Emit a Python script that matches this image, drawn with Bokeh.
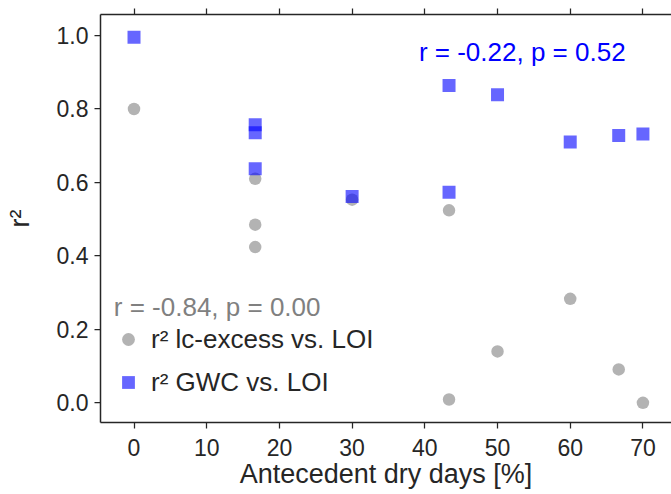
from bokeh.plotting import figure
from bokeh.models import (LinearAxis, SingleIntervalTicker, Label, PrintfTickFormatter,
                          Range1d)
from bokeh.embed import file_html
from bokeh.resources import INLINE

# Data
x_ic = [0, 16.67, 16.67, 16.67, 30, 43.33, 43.33, 50, 60, 66.67, 70]
r2_ic = [0.80, 0.61, 0.485, 0.424, 0.553, 0.524, 0.009, 0.140, 0.283, 0.091, 0.0]
x_gwc = [0, 16.67, 16.67, 16.67, 30, 43.33, 43.33, 50, 60, 66.67, 70]
r2_gwc = [0.995, 0.757, 0.735, 0.637, 0.562, 0.864, 0.573, 0.839, 0.710, 0.728, 0.732]
label_ic = "r² lc-excess vs. LOI"
label_gwc = "r² GWC vs. LOI"
stat_gwc = "r = -0.22, p = 0.52"
stat_ic = "r = -0.84, p = 0.00"
x_title = "Antecedent dry days [%]"
y_title = "r²"

FONT = "Liberation Sans"
TXT = "#262626"

p = figure(width=671, height=494, output_backend="svg", toolbar_location=None,
           x_range=Range1d(-4.61, 73.93), y_range=Range1d(-0.0536, 1.0572),
           min_border_left=100, min_border_right=0, min_border_top=14, min_border_bottom=72,
           x_axis_location="below")
p.outline_line_color = None
p.xgrid.visible = False
p.ygrid.visible = False
p.background_fill_color = "white"

p.scatter(x_ic, r2_ic, marker="circle", size=12.5, fill_color="gray", fill_alpha=0.6,
          line_color=None, legend_label=label_ic)
p.scatter(x_gwc, r2_gwc, marker="square", size=13, fill_color="blue", fill_alpha=0.6,
          line_color=None, legend_label=label_gwc)

# bottom axis
xa = p.xaxis[0]
xa.ticker = SingleIntervalTicker(interval=10)
xa.axis_label = x_title
# left axis
ya = p.yaxis[0]
ya.ticker = SingleIntervalTicker(interval=0.2)
ya.formatter = PrintfTickFormatter(format="%.1f")
ya.axis_label = y_title

for ax in (xa, ya):
    ax.axis_line_color = TXT
    ax.axis_line_width = 1.5
    ax.major_tick_line_color = TXT
    ax.major_tick_line_width = 1.25
    ax.major_tick_out = 6
    ax.major_tick_in = 0
    ax.minor_tick_line_color = None
    ax.major_label_text_font = FONT
    ax.major_label_text_font_size = "23px"
    ax.major_label_text_color = TXT
    ax.axis_label_text_font = FONT
    ax.axis_label_text_font_size = "27px"
    ax.axis_label_text_font_style = "normal"
    ax.axis_label_text_color = TXT

xa.major_label_standoff = 10
xa.axis_label_standoff = 0
ya.major_label_standoff = 6
ya.axis_label_standoff = 19

# top axis: ticks only
top = LinearAxis(ticker=SingleIntervalTicker(interval=10))
top.axis_line_color = TXT
top.axis_line_width = 1.5
top.major_tick_line_color = TXT
top.major_tick_line_width = 1.25
top.major_tick_out = 6
top.major_tick_in = 0
top.minor_tick_line_color = None
top.major_label_text_font_size = "1px"
top.major_label_text_alpha = 0
top.major_label_standoff = 0
p.add_layout(top, "above")

# statistics annotations
p.add_layout(Label(x=53.4, y=0.955, text=stat_gwc, text_align="center",
                   text_baseline="alphabetic", text_color="blue",
                   text_font=FONT, text_font_size="26px"))
p.add_layout(Label(x=-2.78, y=0.260, text=stat_ic, text_align="left",
                   text_baseline="alphabetic", text_color="gray",
                   text_font=FONT, text_font_size="26px"))

lg = p.legend[0]
lg.location = (8, 20)
lg.background_fill_alpha = 0
lg.border_line_alpha = 0
lg.glyph_width = 32
lg.glyph_height = 32
lg.label_height = 32
lg.label_standoff = 7
lg.spacing = 11
lg.padding = 4
lg.margin = 0
lg.label_text_font = FONT
lg.label_text_font_size = "26px"
lg.label_text_color = TXT
lg.label_text_baseline = "middle"

open("out.html", "w").write(file_html(p, INLINE))
